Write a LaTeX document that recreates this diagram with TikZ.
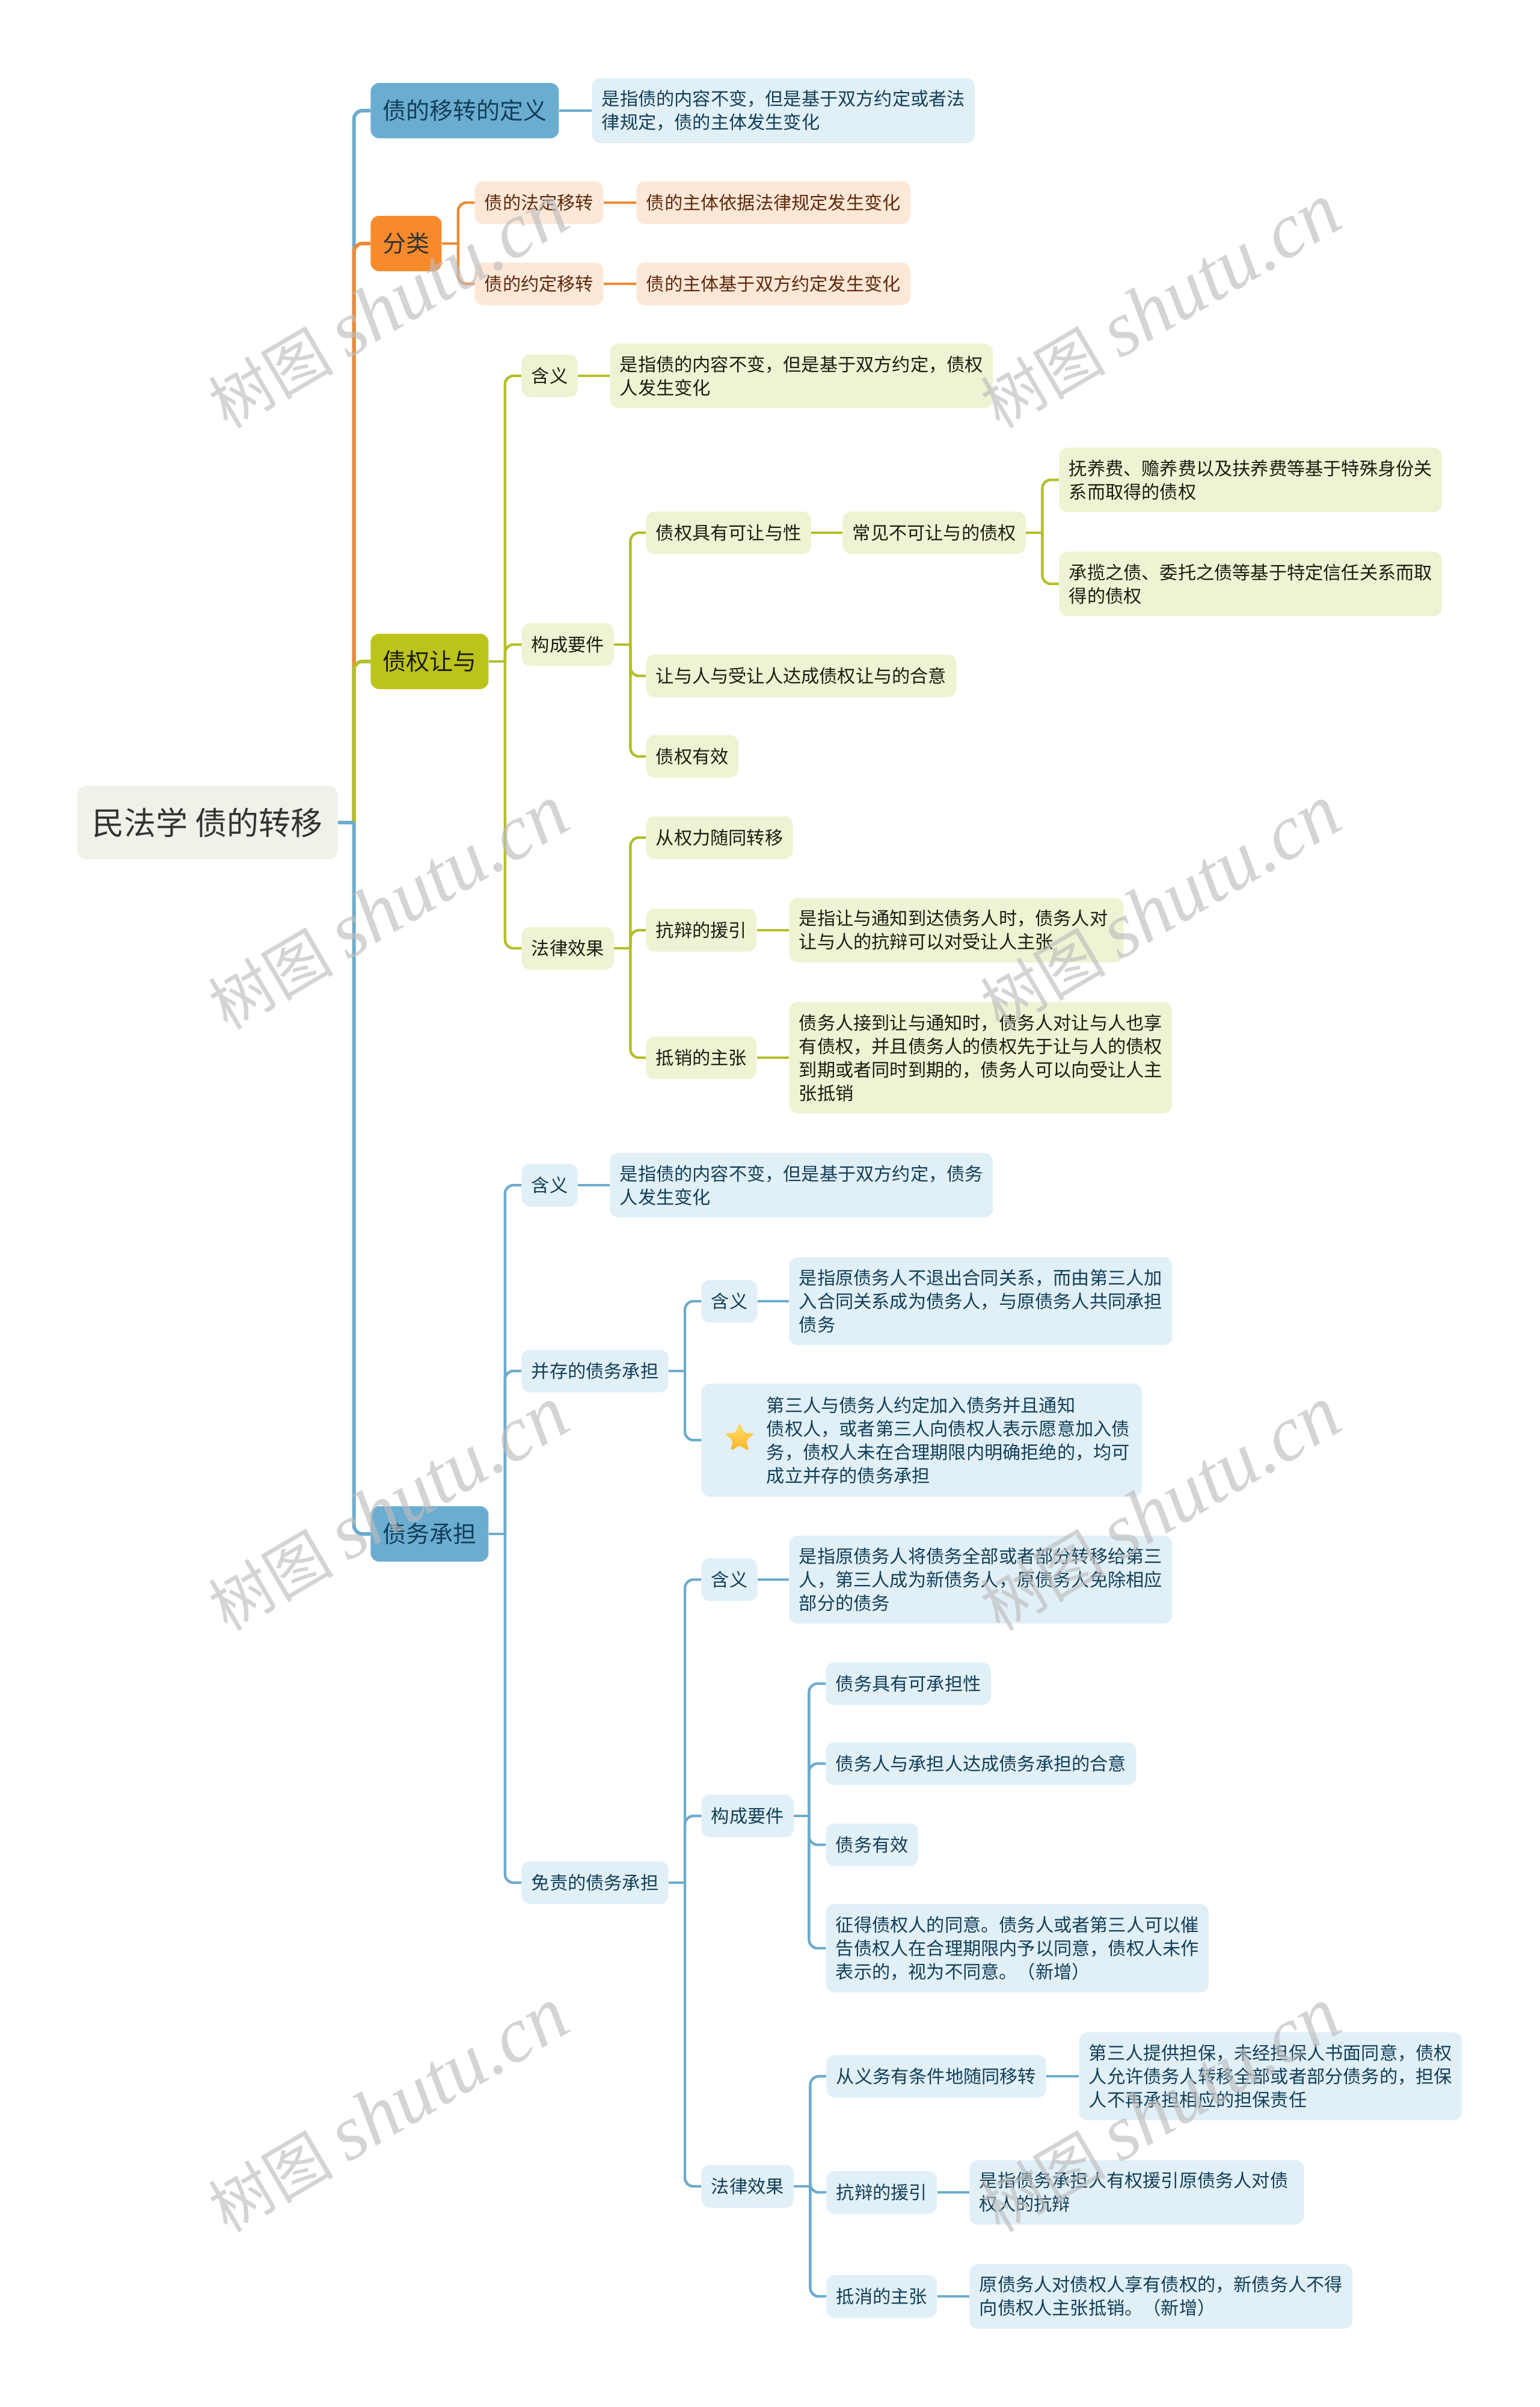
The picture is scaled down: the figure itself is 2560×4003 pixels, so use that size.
\documentclass[tikz,border=0pt]{standalone}
\usepackage{fontspec}
\setmainfont{Noto Sans CJK SC}
\newfontfamily\markfont{Liberation Serif}
\usetikzlibrary{shapes.geometric}
\definecolor{bluedark}{HTML}{6BADD1}
\definecolor{bluelight}{HTML}{E1EFF7}
\definecolor{blueline}{HTML}{6DABCC}
\definecolor{bluetext}{HTML}{123F58}
\definecolor{orangedark}{HTML}{F78B2C}
\definecolor{orangelight}{HTML}{FDE8D8}
\definecolor{orangeline}{HTML}{EE8A36}
\definecolor{orangetext}{HTML}{5E2A0C}
\definecolor{olivedark}{HTML}{BCC41C}
\definecolor{olivelight}{HTML}{EFF3D3}
\definecolor{oliveline}{HTML}{B4BF2A}
\definecolor{olivetext}{HTML}{1C1C10}
\definecolor{rootfill}{HTML}{F1F1E9}
\definecolor{markgray}{HTML}{BDBDBD}
\definecolor{startop}{HTML}{FFE067}
\definecolor{starbottom}{HTML}{F9B32A}
\tikzset{
	box/.style = {anchor = west, align = left, rounded corners = 7pt, inner xsep = 8.2pt, inner ysep = 10pt, minimum height = 35.5pt, font = \fontsize{15.1}{19.5}\selectfont},
	head/.style = {anchor = west, align = left, rounded corners = 7pt, inner xsep = 10pt, minimum height = 46pt, font = \fontsize{19.5}{24}\selectfont},
	bluebox/.style = {box, fill = bluelight, text = bluetext},
	orangebox/.style = {box, fill = orangelight, text = orangetext},
	olivebox/.style = {box, fill = olivelight, text = olivetext},
	toplink/.style = {line width = 3pt},
	sublink/.style = {line width = 2.2pt},
	wmark/.style = {text = markgray, opacity = 0.65, rotate = 30.5, font = \fontsize{52}{52}\selectfont}
}
\newcommand{\fork}[4]{
	\draw[#3] (#1.east) -- ++(#2,0);
	\foreach \kid in {#4}
		\draw[#3, rounded corners = 7pt] (#1.east) ++(#2,0) |- (\kid.west);
}
\begin{document}
\begin{tikzpicture}[x=0.5pt, y=-0.5pt]
\useasboundingbox (0,0) rectangle (2560,4003);
% root and main branches
\node[head, fill = rootfill, text = black!80, inner xsep = 12.5pt, minimum height = 61pt, font = \fontsize{26.5}{30}\selectfont] (root) at (128,1368) {民法学 债的转移};
\node[head, fill = bluedark, text = bluetext] (define) at (616,184) {债的移转的定义};
\node[head, fill = orangedark, text = black!80] (sort) at (616,405) {分类};
\node[head, fill = olivedark, text = olivetext] (assign) at (616,1100) {债权让与};
\node[head, fill = bluedark, text = bluetext] (assume) at (616,2551) {债务承担};
\fork{root}{27}{toplink, blueline}{define}
\fork{root}{27}{toplink, orangeline}{sort}
\fork{root}{27}{toplink, oliveline}{assign}
\fork{root}{27}{toplink, blueline}{assume}

\node[bluebox] (defineT) at (984,184) {是指债的内容不变，但是基于双方约定或者法\\律规定，债的主体发生变化};
\draw[sublink, blueline] (define.east) -- (defineT.west);

% sort
\node[orangebox] (legal) at (789,337) {债的法定移转};
\node[orangebox] (legalT) at (1058,337) {债的主体依据法律规定发生变化};
\node[orangebox] (agreed) at (789,472) {债的约定移转};
\node[orangebox] (agreedT) at (1058,472) {债的主体基于双方约定发生变化};
\fork{sort}{27}{sublink, orangeline}{legal, agreed}
\draw[sublink, orangeline] (legal.east) -- (legalT.west);
\draw[sublink, orangeline] (agreed.east) -- (agreedT.west);

% assign
\node[olivebox] (asMean) at (867,625) {含义};
\node[olivebox] (asMeanT) at (1014,625) {是指债的内容不变，但是基于双方约定，债权\\人发生变化};
\node[olivebox] (asForm) at (867,1072) {构成要件};
\node[olivebox] (asEffect) at (867,1577) {法律效果};
\fork{assign}{27}{sublink, oliveline}{asMean, asForm, asEffect}
\draw[sublink, oliveline] (asMean.east) -- (asMeanT.west);

\node[olivebox] (asCan) at (1074,886) {债权具有可让与性};
\node[olivebox] (asCannot) at (1401,886) {常见不可让与的债权};
\node[olivebox] (asCannotA) at (1761,798) {抚养费、赡养费以及扶养费等基于特殊身份关\\系而取得的债权};
\node[olivebox] (asCannotB) at (1761,971) {承揽之债、委托之债等基于特定信任关系而取\\得的债权};
\node[olivebox] (asDeal) at (1074,1124) {让与人与受让人达成债权让与的合意};
\node[olivebox] (asValid) at (1074,1258) {债权有效};
\fork{asForm}{27}{sublink, oliveline}{asCan, asDeal, asValid}
\draw[sublink, oliveline] (asCan.east) -- (asCannot.west);
\fork{asCannot}{27}{sublink, oliveline}{asCannotA, asCannotB}

\node[olivebox] (asRight) at (1074,1393) {从权力随同转移};
\node[olivebox] (asPlea) at (1074,1547) {抗辩的援引};
\node[olivebox, text width = 261.6pt] (asPleaT) at (1312,1547) {是指让与通知到达债务人时，债务人对\\让与人的抗辩可以对受让人主张};
\node[olivebox] (asSet) at (1074,1759) {抵销的主张};
\node[olivebox] (asSetT) at (1312,1759) {债务人接到让与通知时，债务人对让与人也享\\有债权，并且债务人的债权先于让与人的债权\\到期或者同时到期的，债务人可以向受让人主\\张抵销};
\fork{asEffect}{27}{sublink, oliveline}{asRight, asPlea, asSet}
\draw[sublink, oliveline] (asPlea.east) -- (asPleaT.west);
\draw[sublink, oliveline] (asSet.east) -- (asSetT.west);

% assume
\node[bluebox] (atMean) at (867,1971) {含义};
\node[bluebox] (atMeanT) at (1014,1971) {是指债的内容不变，但是基于双方约定，债务\\人发生变化};
\node[bluebox] (joint) at (867,2280) {并存的债务承担};
\node[bluebox] (free) at (867,3131) {免责的债务承担};
\fork{assume}{27}{sublink, blueline}{atMean, joint, free}
\draw[sublink, blueline] (atMean.east) -- (atMeanT.west);

\node[bluebox] (jMean) at (1166,2164) {含义};
\node[bluebox] (jMeanT) at (1312,2164) {是指原债务人不退出合同关系，而由第三人加\\入合同关系成为债务人，与原债务人共同承担\\债务};
\node[bluebox, minimum height = 94pt] (jNote) at (1166,2395) {\hspace*{46pt}\parbox[c]{304pt}{第三人与债务人约定加入债务并且通知\\债权人，或者第三人向债权人表示愿意加入债\\务，债权人未在合理期限内明确拒绝的，均可\\成立并存的债务承担}};
\node[star, star points = 5, star point ratio = 2.2, top color = startop, bottom color = starbottom, minimum size = 26pt, inner sep = 0pt, rounded corners = 2pt] (jStar) at (1230,2392) {};
\fork{joint}{27}{sublink, blueline}{jMean, jNote}
\draw[sublink, blueline] (jMean.east) -- (jMeanT.west);

\node[bluebox] (fMean) at (1166,2627) {含义};
\node[bluebox] (fMeanT) at (1312,2627) {是指原债务人将债务全部或者部分转移给第三\\人，第三人成为新债务人，原债务人免除相应\\部分的债务};
\node[bluebox] (fForm) at (1166,3020) {构成要件};
\node[bluebox] (fEffect) at (1166,3636) {法律效果};
\fork{free}{27}{sublink, blueline}{fMean, fForm, fEffect}
\draw[sublink, blueline] (fMean.east) -- (fMeanT.west);

\node[bluebox] (fCan) at (1373,2800) {债务具有可承担性};
\node[bluebox] (fDeal) at (1373,2933) {债务人与承担人达成债务承担的合意};
\node[bluebox] (fValid) at (1373,3068) {债务有效};
\node[bluebox] (fAgree) at (1373,3240) {征得债权人的同意。债务人或者第三人可以催\\告债权人在合理期限内予以同意，债权人未作\\表示的，视为不同意。（新增）};
\fork{fForm}{25}{sublink, blueline}{fCan, fDeal, fValid, fAgree}

\node[bluebox] (fSub) at (1374,3453) {从义务有条件地随同移转};
\node[bluebox] (fSubT) at (1794,3453) {第三人提供担保，未经担保人书面同意，债权\\人允许债务人转移全部或者部分债务的，担保\\人不再承担相应的担保责任};
\node[bluebox] (fPlea) at (1374,3646) {抗辩的援引};
\node[bluebox, text width = 261.6pt] (fPleaT) at (1612,3646) {是指债务承担人有权援引原债务人对债\\权人的抗辩};
\node[bluebox] (fSet) at (1374,3819) {抵消的主张};
\node[bluebox] (fSetT) at (1612,3819) {原债务人对债权人享有债权的，新债务人不得\\向债权人主张抵销。（新增）};
\fork{fEffect}{27}{sublink, blueline}{fSub, fPlea, fSet}
\draw[sublink, blueline] (fSub.east) -- (fSubT.west);
\draw[sublink, blueline] (fPlea.east) -- (fPleaT.west);
\draw[sublink, blueline] (fSet.east) -- (fSetT.west);

% watermarks
\foreach \x in {646,1930}
	\foreach \y in {510,1510,2510,3510}
		\node[wmark] (mark\x\y) at (\x,\y) {树图 {\markfont\itshape\fontsize{65}{65}\selectfont shutu.cn}};
\end{tikzpicture}
\end{document}
